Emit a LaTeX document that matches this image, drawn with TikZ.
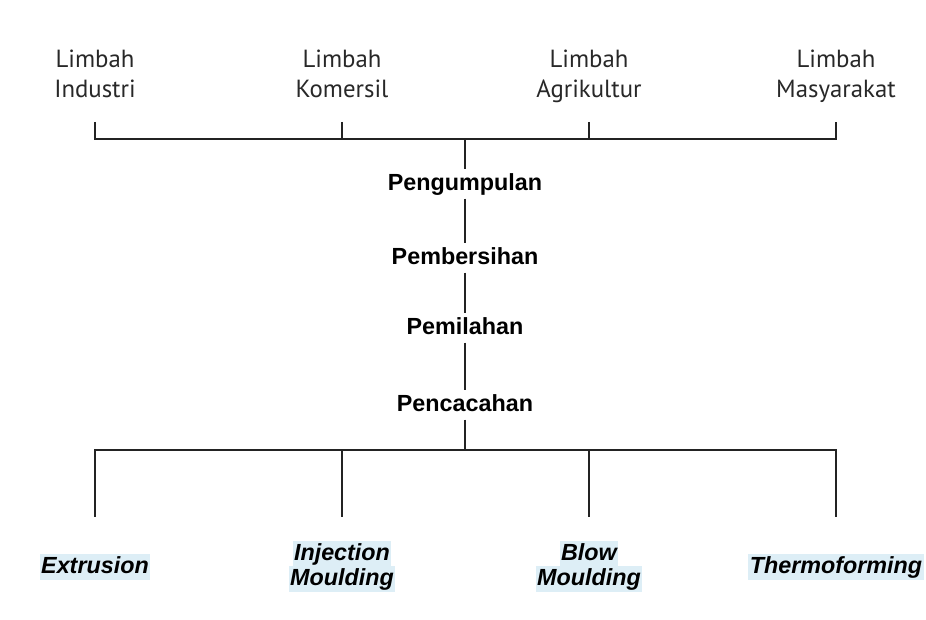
\documentclass[tikz,border=0pt]{standalone}
\usepackage{fontspec}
\setmainfont{Liberation Sans}
\newfontfamily\srcfont{PT Sans}
\definecolor{linegray}{RGB}{35,35,35}
\definecolor{srcgray}{RGB}{40,40,40}
\definecolor{hlblue}{RGB}{221,238,246}
\begin{document}
\begin{tikzpicture}[x=0.75pt,y=-0.75pt,
  line/.style={draw=linegray,line width=1.6pt,line join=miter},
  source/.style={font=\srcfont\fontsize{18.6}{22.5}\selectfont,text=srcgray,align=center,inner sep=0pt},
  stage/.style={font=\bfseries\fontsize{17.5}{20}\selectfont,inner sep=0pt,text height=15.5pt,text depth=6pt},
  method/.style={font=\bfseries\itshape\fontsize{17.5}{19.5}\selectfont,fill=hlblue,inner xsep=1pt,inner ysep=0pt,text height=14.5pt,text depth=5pt}]
\useasboundingbox (0,0) rectangle (926,620);

% waste sources
\node[source] (ind) at (95,77)  {\strut Limbah\\Industri\strut};
\node[source] (kom) at (342,77) {\strut Limbah\\Komersil\strut};
\node[source] (agr) at (589,77) {\strut Limbah\\Agrikultur\strut};
\node[source] (mas) at (836,77) {\strut Limbah\\Masyarakat\strut};

% processing stages
\node[stage] (kumpul) at (465,184) {Pengumpulan};
\node[stage] (bersih) at (465,258) {Pembersihan};
\node[stage] (pilah)  at (465,328) {Pemilahan};
\node[stage] (cacah)  at (465,405) {Pencacahan};

% processing methods
\node[method] (ext)  at (95,567)  {Extrusion};
\node[method] (inj1) at (342,554) {Injection};
\node[method] (inj2) at (342,579.5) {Moulding};
\node[method] (blw1) at (589,554) {Blow};
\node[method] (blw2) at (589,579.5) {Moulding};
\node[method] (thf)  at (836,567) {Thermoforming};

% upper collecting bus
\coordinate (t1) at (95,122);  \coordinate (j1) at (95,139);
\coordinate (t2) at (342,122); \coordinate (j2) at (342,139);
\coordinate (t3) at (589,122); \coordinate (j3) at (589,139);
\coordinate (t4) at (836,122); \coordinate (j4) at (836,139);
\coordinate (jc) at (465,139);
\draw[line] (t1) -- (j1) -- (j4) -- (t4);
\draw[line] (t2) -- (j2);
\draw[line] (t3) -- (j3);

% central chain
\draw[line] (jc) -- (kumpul.north);
\draw[line] (kumpul.south) -- (bersih.north);
\draw[line] (bersih.south) -- (pilah.north);
\draw[line] (pilah.south) -- (cacah.north);

% lower distributing bus
\coordinate (bc) at (465,450);
\coordinate (b1) at (95,450);  \coordinate (e1) at (95,517);
\coordinate (b2) at (342,450); \coordinate (e2) at (342,517);
\coordinate (b3) at (589,450); \coordinate (e3) at (589,517);
\coordinate (b4) at (836,450); \coordinate (e4) at (836,517);
\draw[line] (cacah.south) -- (bc);
\draw[line] (e1) -- (b1) -- (b4) -- (e4);
\draw[line] (b2) -- (e2);
\draw[line] (b3) -- (e3);
\end{tikzpicture}
\end{document}
